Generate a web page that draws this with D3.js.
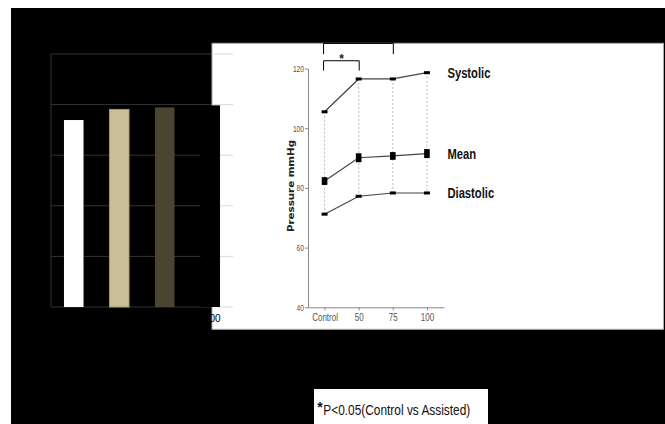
<!DOCTYPE html>
<html>
<head>
<meta charset="utf-8">
<script src="https://cdn.jsdelivr.net/npm/d3@7"></script>
<style>
body{margin:0;background:#fff}
svg{display:block}
text{font-family:"Liberation Sans",Arial,sans-serif}
</style>
</head>
<body>
<svg id="c" width="665" height="424"></svg>
<script>
// left bar chart, mostly hidden behind the black
var barCats = ["Control","50","75","100"];
var barVals = [73.9, 78.1, 78.9, 79.7];
var barColors = ["#ffffff","#c8bf98","#4a4530","#000000"];
var barTicks = [0,20,40,60,80,100];

// pressure chart
var doses = ["Control","50","75","100"];
var systolic = [105.5, 116.5, 116.5, 118.6];
var mean = [82.3, 90.1, 90.7, 91.5];
var meanErr = [1.3, 1.5, 1.3, 1.5];
var diastolic = [71.2, 77.2, 78.3, 78.3];
var yTicks = [40,60,80,100,120];
var seriesNames = ["Systolic","Mean","Diastolic"];
var footnote = "P<0.05(Control vs Assisted)";

var svg = d3.select("#c");

// the original font is narrow, so squeeze Arial-like text a bit
function squeeze(sel, f){
    sel.each(function(){
        var w = this.getComputedTextLength();
        d3.select(this).attr("textLength", w*f).attr("lengthAdjust","spacingAndGlyphs");
    });
}

svg.append("rect").attr("x",11).attr("y",8).attr("width",654).attr("height",416).attr("fill","#000");

// ---- bar chart ----
var xb = d3.scaleBand().domain(barCats).range([51,233]).paddingInner(0.57).paddingOuter(0.285);
var yb = d3.scaleLinear().domain([0,100]).range([307,54]);
var panelX = 212;

svg.append("g").selectAll("line").data(barTicks).enter().append("line")
    .attr("x1",51).attr("x2",panelX)
    .attr("y1",function(d){return yb(d);}).attr("y2",function(d){return yb(d);})
    .attr("stroke","#333").attr("stroke-width",1);
svg.append("line").attr("x1",51).attr("x2",51).attr("y1",yb(0)).attr("y2",yb(100))
    .attr("stroke","#333");

// white panel
svg.append("rect").attr("x",panelX).attr("y",43.3).attr("width",451.5).attr("height",286)
    .attr("fill","#fff").attr("stroke","#aaa").attr("stroke-width",1);

svg.append("g").selectAll("line").data(barTicks).enter().append("line")
    .attr("x1",panelX).attr("x2",233)
    .attr("y1",function(d){return yb(d);}).attr("y2",function(d){return yb(d);})
    .attr("stroke","#d9d9d9").attr("stroke-width",1);

svg.append("g").selectAll("rect").data(barVals).enter().append("rect")
    .attr("x",function(d,i){return xb(barCats[i]);})
    .attr("width",xb.bandwidth())
    .attr("y",function(d){return yb(d);})
    .attr("height",function(d){return yb(0)-yb(d);})
    .attr("fill",function(d,i){return barColors[i];})
    .attr("stroke",function(d,i){return i==1 ? "#a8995a" : "none";});

svg.append("g").selectAll("text").data(barCats).enter().append("text")
    .attr("x",function(d){return xb(d)+xb.bandwidth()/2+2;})
    .attr("y",322).attr("text-anchor","middle")
    .attr("font-size",10).attr("fill","#000")
    .text(function(d){return d;});

// ---- pressure chart ----
var x = d3.scalePoint().domain(doses).range([307.5,444]).padding(0.5);
var y = d3.scaleLinear().domain([40,120]).range([307.3,68.5]);

var ya = svg.append("g").attr("transform","translate(308,0)")
    .call(d3.axisLeft(y).tickValues(yTicks).tickSize(3).tickSizeOuter(0).tickPadding(1));
var xa = svg.append("g").attr("transform","translate(0,307.3)")
    .call(d3.axisBottom(x).tickSize(3).tickSizeOuter(0).tickPadding(3));
[ya,xa].forEach(function(a){
    a.selectAll("path,line").attr("stroke","#888");
    a.selectAll("text").attr("fill","#555")
        .style("font-family",'"Liberation Sans",Arial,sans-serif');
});
ya.selectAll("text").attr("font-size",9.5);
xa.selectAll("text").attr("font-size",10.5);
squeeze(ya.selectAll("text"),0.7);
squeeze(xa.selectAll("text"),0.76);

svg.append("text")
    .attr("transform","translate(293.5,232) rotate(-90)")
    .style("font-family","DejaVu Sans, sans-serif")
    .attr("font-weight","bold").attr("font-size",8).attr("fill","#222")
    .attr("textLength",92).attr("lengthAdjust","spacingAndGlyphs")
    .text("Pressure mmHg");

// dashed drop lines
svg.append("g").selectAll("line").data(doses).enter().append("line")
    .attr("x1",function(d){return x(d);}).attr("x2",function(d){return x(d);})
    .attr("y1",function(d,i){return y(systolic[i]);})
    .attr("y2",function(d,i){return y(diastolic[i]);})
    .attr("stroke","#aaa").attr("stroke-width",0.8).attr("stroke-dasharray","2,2");

var line = d3.line().x(function(d,i){return x(doses[i]);}).y(function(d){return y(d);});
var series = [systolic, mean, diastolic];
series.forEach(function(s){
    svg.append("path").attr("d",line(s)).attr("fill","none")
        .attr("stroke","#444").attr("stroke-width",1.2);
});

[systolic, diastolic].forEach(function(s){
    svg.append("g").selectAll("rect").data(s).enter().append("rect")
        .attr("x",function(d,i){return x(doses[i])-3;})
        .attr("y",function(d){return y(d)-1.5;})
        .attr("width",6).attr("height",3).attr("fill","#000");
});
svg.append("g").selectAll("rect").data(mean).enter().append("rect")
    .attr("x",function(d,i){return x(doses[i])-2.8;})
    .attr("y",function(d,i){return y(d+meanErr[i]);})
    .attr("width",5.6)
    .attr("height",function(d,i){return y(d-meanErr[i])-y(d+meanErr[i]);})
    .attr("fill","#000");

var labels = svg.append("g").selectAll("text").data(series).enter().append("text")
    .attr("x",x(doses[3])+20.5)
    .attr("y",function(s){return y(s[3]);})
    .attr("dy","0.36em")
    .attr("font-size",14).attr("font-weight","bold").attr("fill","#111")
    .text(function(s,i){return seriesNames[i];});
squeeze(labels,0.8);

// significance brackets
function bracket(a,b,top,bot){
    svg.append("path")
        .attr("d","M"+(x(a)-1)+","+y(bot)+"V"+y(top)+"H"+(x(b)+0.5)+"V"+y(bot))
        .attr("fill","none").attr("stroke","#000").attr("stroke-width",1);
}
bracket("Control","75",128.4,124.8);
bracket("Control","50",122.6,119.3);
svg.append("text").attr("x",(x("Control")+x("50"))/2).attr("y",y(122.6)+2.5)
    .attr("text-anchor","middle").attr("font-size",12).attr("font-weight","bold")
    .attr("fill","#222").text("*");

// footnote
svg.append("rect").attr("x",314).attr("y",389).attr("width",174).attr("height",35).attr("fill","#fff");
svg.append("text").attr("x",317.3).attr("y",412).attr("font-size",14).attr("font-weight","bold")
    .attr("fill","#111").text("*");
svg.append("text").attr("x",323.3).attr("y",415.3).attr("font-size",15).attr("fill","#111")
    .attr("textLength",147).attr("lengthAdjust","spacingAndGlyphs")
    .text(footnote);
</script>
</body>
</html>
